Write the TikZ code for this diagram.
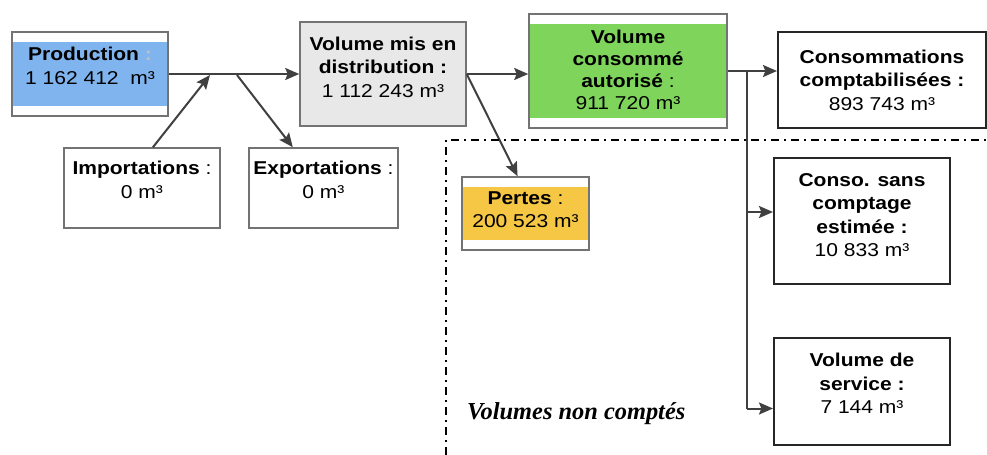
\documentclass[tikz,border=0pt]{standalone}
\usepackage{fontspec}
\setmainfont{Liberation Sans}[FakeStretch=1.13]
\newfontfamily\notefont{Liberation Serif}
\usepackage{tikz}
\usetikzlibrary{arrows.meta}
\definecolor{prodblue}{HTML}{80B4EF}
\definecolor{autogreen}{HTML}{7FD55C}
\definecolor{lossyellow}{HTML}{F6C744}
\definecolor{distgray}{HTML}{E8E8E8}
\tikzset{
    box/.style={shape=rectangle, draw=black!55, line width=0.75pt, fill=white,
        align=center, inner sep=0pt, font=\fontsize{9.3}{11.8}\selectfont},
    boxdark/.style={box, draw=black!85, line width=1pt},
    band/.style={path picture={\fill[#1] ([yshift=-5pt]path picture bounding box.north west)
        rectangle ([yshift=5pt]path picture bounding box.south east);}},
    flow/.style={draw=black!75, line width=1pt},
    flowarrow/.style={flow, -{Stealth[length=7pt,width=6pt,inset=1.2pt]}},
    zone/.style={draw=black, line width=1.2pt, dash pattern=on 4pt off 2.5pt on 1pt off 2.5pt}
}

\begin{document}
\begin{tikzpicture}[x=0.5pt, y=-0.5pt]
        \useasboundingbox (0,0) rectangle (987,455);

        % bilan amont
        \node[box, band=prodblue, minimum width=78pt, minimum height=42pt, text depth=8.5pt] (prod) at (90,74)
            {\textbf{Production} \textcolor{black!25}{\textbf{:}}\\1 162 412~~m³};
        \node[box, minimum width=78pt, minimum height=40pt, text depth=8pt] (imp) at (142,188)
            {\textbf{Importations} :\\0 m³};
        \node[box, minimum width=74.5pt, minimum height=40pt, text depth=8pt] (exp) at (323.5,188)
            {\textbf{Exportations} :\\0 m³};
        \node[box, fill=distgray, minimum width=83pt, minimum height=52pt, text depth=7pt] (dist) at (383,74)
            {\textbf{Volume mis en}\\\textbf{distribution :}\\1 112 243 m³};
        \node[box, band=autogreen, font=\fontsize{9.3}{11}\selectfont, minimum width=99pt, minimum height=57pt, text depth=1.5pt] (auto) at (628,71)
            {\textbf{Volume}\\\textbf{consommé}\\\textbf{autorisé} :\\911 720 m³};
        \node[box, band=lossyellow, minimum width=63.5pt, minimum height=36.5pt, text depth=4pt] (loss) at (525.5,213.5)
            {\textbf{Pertes} :\\200 523 m³};

        % bilan aval
        \node[boxdark, minimum width=104pt, minimum height=48pt] (compt) at (882,80)
            {\textbf{Consommations}\\\textbf{comptabilisées :}\\893 743 m³};
        \node[boxdark, minimum width=88pt, minimum height=63pt, text depth=6pt] (sans) at (862,221)
            {\textbf{Conso. sans}\\\textbf{comptage}\\\textbf{estimée :}\\10 833 m³};
        \node[boxdark, minimum width=88pt, minimum height=53.5pt, text depth=8pt] (serv) at (862,391.5)
            {\textbf{Volume de}\\\textbf{service :}\\7 144 m³};

        \coordinate (jin) at (210,75);
        \coordinate (jout) at (237,75);
        \coordinate (split) at (747,71);
        \coordinate (sansin) at ([yshift=4.5pt]sans.west);
        \coordinate (servin) at ([yshift=-8.5pt]serv.west);

        \draw[flowarrow] (prod.east) -- (dist.west);
        \draw[flowarrow] (imp.75) -- (jin);
        \draw[flowarrow] (jout) -- (exp.127);
        \draw[flowarrow] (dist.east) -- (dist.east -| auto.west);
        \draw[flowarrow] (dist.east) -- (loss.102);
        \draw[flowarrow] (auto.east) -- (auto.east -| compt.west);
        \draw[flow] (split) -- (split |- servin);
        \draw[flowarrow] (split |- sansin) -- (sansin);
        \draw[flowarrow] (split |- servin) -- (servin);

        % zone des volumes non comptes
        \draw[zone] (446,455) -- (446,140) -- (987,140);
        \node[anchor=base west, font=\notefont\bfseries\itshape\fontsize{12.2}{14}\selectfont] (nc) at (460,419) {Volumes non comptés};

    \end{tikzpicture}
\end{document}
